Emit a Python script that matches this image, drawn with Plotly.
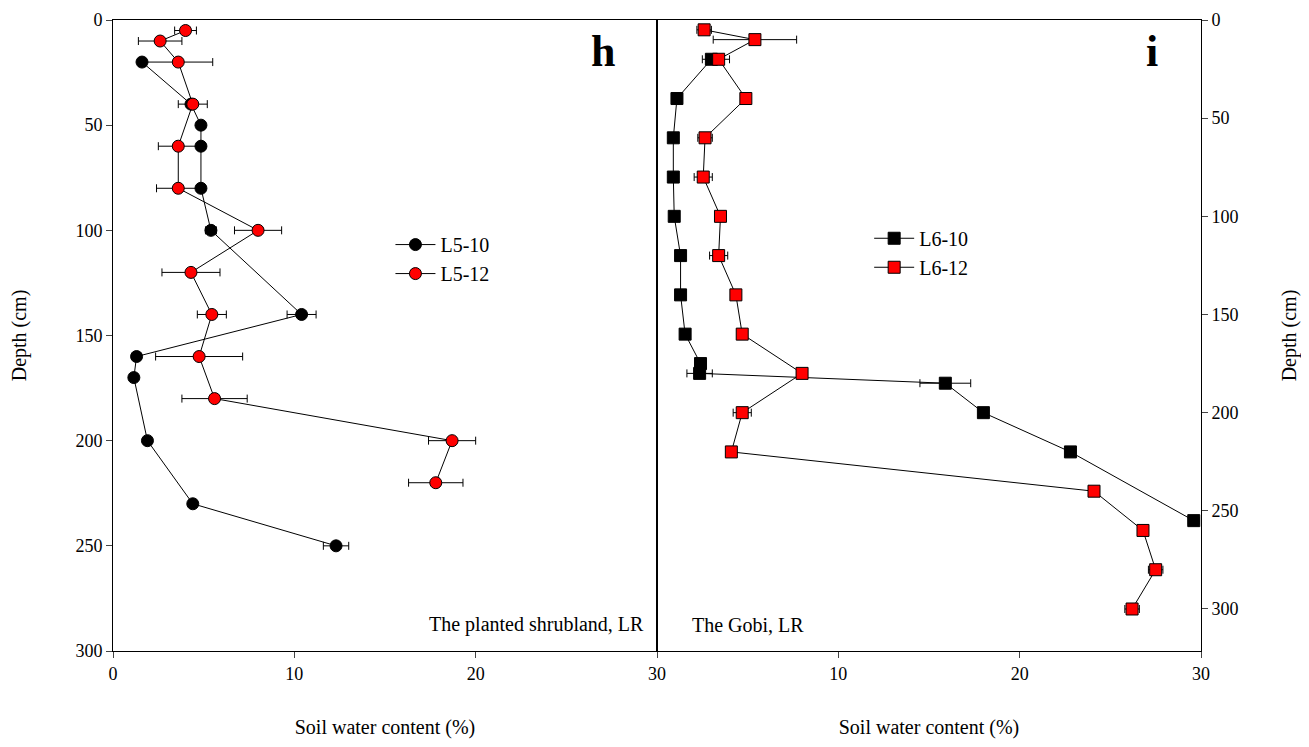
import plotly.graph_objects as go
from plotly.subplots import make_subplots

l510_d = [20, 40, 50, 60, 80, 100, 140, 160, 170, 200, 230, 250]
l510_x = [1.6, 4.3, 4.85, 4.85, 4.85, 5.4, 10.4, 1.3, 1.15, 1.9, 4.4, 12.3]
l510_e = [0.2, 0.2, 0.2, 0.2, 0.2, 0.3, 0.8, 0.2, 0.2, 0.2, 0.2, 0.7]

l512_d = [5, 10, 20, 40, 60, 80, 100, 120, 140, 160, 180, 200, 220]
l512_x = [4.0, 2.6, 3.6, 4.4, 3.6, 3.6, 8.0, 4.3, 5.45, 4.75, 5.6, 18.7, 17.8]
l512_e = [0.6, 1.2, 1.9, 0.8, 1.1, 1.2, 1.3, 1.6, 0.8, 2.4, 1.8, 1.3, 1.5]

l610_d = [20, 40, 60, 80, 100, 120, 140, 160, 175, 180, 185, 200, 220, 255]
l610_x = [3.0, 1.1, 0.9, 0.9, 0.95, 1.3, 1.3, 1.55, 2.4, 2.35, 15.9, 18.0, 22.8, 29.6]
l610_e = [0.5, 0.1, 0.1, 0.1, 0.1, 0.1, 0.1, 0.1, 0.1, 0.7, 1.4, 0.2, 0.2, 0.3]

l612_d = [5, 10, 20, 40, 60, 80, 100, 120, 140, 160, 180, 200, 220, 240, 260, 280, 300]
l612_x = [2.6, 5.4, 3.4, 4.9, 2.65, 2.55, 3.5, 3.4, 4.35, 4.7, 8.0, 4.7, 4.1, 24.1, 26.8, 27.5, 26.2]
l612_e = [0.4, 2.3, 0.6, 0.1, 0.4, 0.5, 0.1, 0.5, 0.1, 0.1, 0.3, 0.5, 0.1, 0.1, 0.1, 0.4, 0.4]

FONT = "Liberation Serif"
fig = make_subplots(rows=1, cols=2, horizontal_spacing=0)

def add(x, d, e, sym, color, name, col, legend):
    fig.add_trace(go.Scatter(
        x=x, y=d, mode="lines+markers", name=name, legend=legend,
        line=dict(color="black", width=1),
        marker=dict(symbol=sym, size=12, color=color, line=dict(color="black", width=1)),
        error_x=dict(type="data", array=e, color="black", thickness=1, width=4),
    ), row=1, col=col)

add(l510_x, l510_d, l510_e, "circle", "black", "L5-10", 1, "legend")
add(l512_x, l512_d, l512_e, "circle", "red", "L5-12", 1, "legend")
add(l610_x, l610_d, l610_e, "square", "black", "L6-10", 2, "legend2")
add(l612_x, l612_d, l612_e, "square", "red", "L6-12", 2, "legend2")

ax = dict(showline=True, linecolor="black", linewidth=1, mirror=True, ticks="outside",
          ticklen=6, showgrid=False, zeroline=False, automargin=False,
          tickfont=dict(size=18, family=FONT))
fig.update_xaxes(**ax, range=[0, 30])
fig.update_xaxes(tickvals=[0, 10, 20, 30], row=1, col=1)
fig.update_xaxes(tickvals=[10, 20, 30], row=1, col=2)
fig.update_xaxes(title=dict(text="Soil water content (%)", font=dict(size=20, family=FONT), standoff=38))
fig.update_yaxes(**ax)
fig.update_yaxes(range=[300, 0], tickvals=[0, 50, 100, 150, 200, 250, 300],
                 title=dict(text="Depth (cm)", font=dict(size=20, family=FONT), standoff=45), row=1, col=1)
fig.update_yaxes(range=[321.4, 0], tickvals=[0, 50, 100, 150, 200, 250, 300], side="right",
                 title=dict(text="Depth (cm)", font=dict(size=20, family=FONT), standoff=50), row=1, col=2)

fig.update_layout(
    width=1293, height=731, margin=dict(l=105, r=100, t=12, b=88),
    plot_bgcolor="white", paper_bgcolor="white", font=dict(family=FONT, color="black"),
    legend=dict(x=0.255, y=0.675, xanchor="left", yanchor="top", font=dict(size=20),
                bgcolor="rgba(0,0,0,0)", tracegroupgap=0, itemwidth=40),
    legend2=dict(x=0.695, y=0.685, xanchor="left", yanchor="top", font=dict(size=20),
                 bgcolor="rgba(0,0,0,0)", tracegroupgap=0, itemwidth=40),
    annotations=[
        dict(text="<b>h</b>", x=0.45, y=0.95, xref="paper", yref="paper", showarrow=False, font=dict(size=44, family=FONT), xanchor="center", yanchor="middle"),
        dict(text="<b>i</b>", x=0.955, y=0.95, xref="paper", yref="paper", showarrow=False, font=dict(size=44, family=FONT), xanchor="center", yanchor="middle"),
        dict(text="The planted shrubland, LR", x=0.49, y=0.02, xref="paper", yref="paper", showarrow=False, font=dict(size=20, family=FONT), xanchor="right", yanchor="bottom"),
        dict(text="The Gobi, LR", x=0.53, y=0.02, xref="paper", yref="paper", showarrow=False, font=dict(size=20, family=FONT), xanchor="left", yanchor="bottom"),
    ],
)
fig.write_html("out.html")
